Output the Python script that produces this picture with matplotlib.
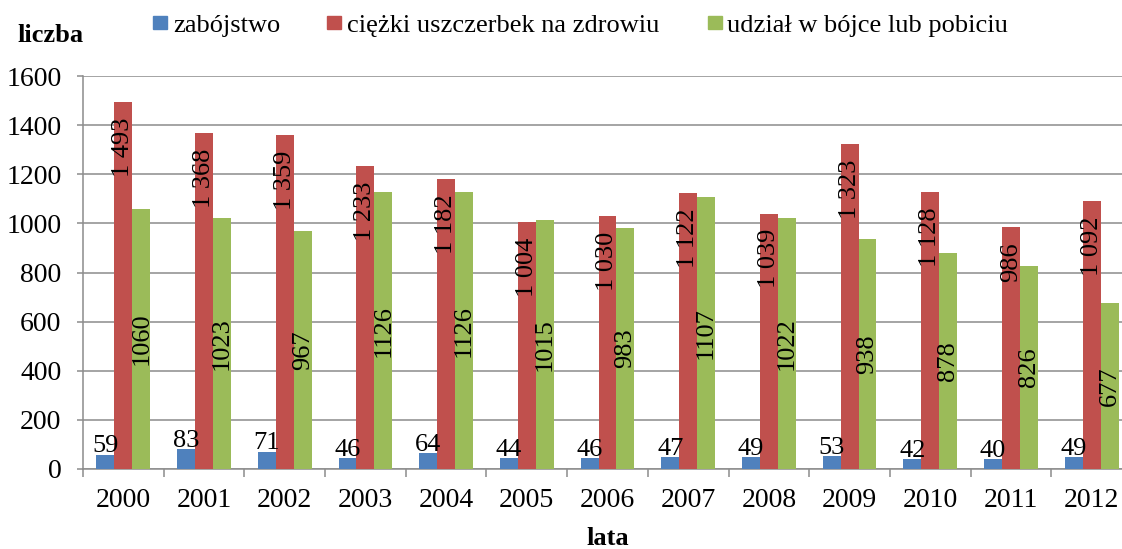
import matplotlib
matplotlib.use("Agg")
import matplotlib.pyplot as plt
from matplotlib.patches import Rectangle
import numpy as np

years = ["2000", "2001", "2002", "2003", "2004", "2005", "2006",
         "2007", "2008", "2009", "2010", "2011", "2012"]
zabojstwo = [59, 83, 71, 46, 64, 44, 46, 47, 49, 53, 42, 40, 49]
ciezki = [1493, 1368, 1359, 1233, 1182, 1004, 1030, 1122, 1039, 1323, 1128, 986, 1092]
udzial = [1060, 1023, 967, 1126, 1126, 1015, 983, 1107, 1022, 938, 878, 826, 677]
series_names = ["zabójstwo", "ciężki uszczerbek na zdrowiu", "udział w bójce lub pobiciu"]
colors = ["#4F81BD", "#C0504D", "#9BBB59"]
yticks = [0, 200, 400, 600, 800, 1000, 1200, 1400, 1600]

plt.rcParams['font.family'] = ['Liberation Serif', 'DejaVu Serif']

W, H = 1122, 549
fig = plt.figure(figsize=(W / 100, H / 100), dpi=100)

def fx(px):
    return px / W

def fy(py):
    return 1 - py / H

left, right, top, bottom = 83, 1132, 76, 469
ax = fig.add_axes([fx(left), fy(bottom), fx(right - left), (bottom - top) / H])

x = np.arange(len(years))
w = 1 / 4.5
for k, (vals, c) in enumerate(zip([zabojstwo, ciezki, udzial], colors)):
    ax.bar(x + (k - 1) * w, vals, width=w, color=c, zorder=3)

def fmt(v):
    s = str(v)
    if v >= 1000:
        s = s[:-3] + " " + s[-3:]
    return s

lab_fs = 19
for i in range(len(years)):
    ax.annotate(str(zabojstwo[i]), (x[i] - w, zabojstwo[i]), xytext=(0, 1.5),
                textcoords="offset points", ha="center", va="baseline",
                fontsize=lab_fs, zorder=5)
    ax.annotate(fmt(ciezki[i]), (x[i], ciezki[i]), xytext=(0, -11),
                textcoords="offset points", ha="center", va="top",
                rotation=90, fontsize=lab_fs, zorder=5)
    ax.text(x[i] + w, udzial[i] / 2, str(udzial[i]), ha="center", va="center",
            rotation=90, fontsize=lab_fs, zorder=5)

ax.set_xlim(-0.5, len(years) - 0.5)
ax.set_ylim(0, 1600)
ax.set_yticks(yticks)
ax.set_yticklabels([str(t) for t in yticks])
ax.set_xticks(np.arange(-0.5, len(years), 1.0))
ax.set_xticklabels([])
ax.set_xticks(x, minor=True)
ax.set_xticklabels(years, minor=True)

gray = "#8C8C8C"
ax.grid(axis="y", color=gray, linewidth=1.1, zorder=0)
ax.set_axisbelow(True)
for s in ["top", "right"]:
    ax.spines[s].set_visible(False)
for s in ["left", "bottom"]:
    ax.spines[s].set_color(gray)
    ax.spines[s].set_linewidth(1.1)
ax.tick_params(axis="y", direction="out", length=4.5, width=1.1, color=gray,
               labelsize=20, pad=11)
ax.tick_params(axis="x", which="major", direction="out", length=6, width=1.1, color=gray)
ax.tick_params(axis="x", which="minor", length=0, labelsize=20, pad=14)

# y label and x label
fig.text(fx(17), fy(42), "liczba", fontsize=19, fontweight="bold", ha="left", va="baseline")
fig.text(fx(608), fy(545), "lata", fontsize=19, fontweight="bold", ha="center", va="baseline")

# legend
leg = [(153, 173), (327, 347), (708, 727)]
for (sx, tx), name, c in zip(leg, series_names, colors):
    fig.patches.append(Rectangle((fx(sx), fy(29)), fx(14), 13 / H, color=c,
                                 transform=fig.transFigure, figure=fig))
    fig.text(fx(tx), fy(32), name, fontsize=19, ha="left", va="baseline")

fig.savefig("out.png", dpi=100)
